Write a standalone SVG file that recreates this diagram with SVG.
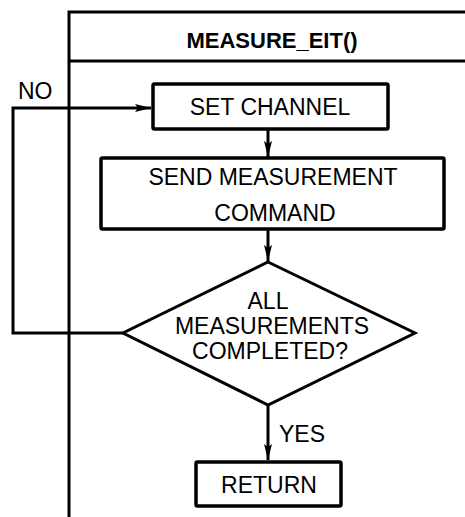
<svg xmlns="http://www.w3.org/2000/svg" width="465" height="517" viewBox="0 0 465 517">
  <style>
    .frame { fill: none; stroke: #000; stroke-width: 3; }
    .box { fill: #fff; stroke: #000; stroke-width: 3.5; }
    .wire { fill: none; stroke: #000; stroke-width: 3; }
    .lbl { font-family: "Liberation Sans", Arial, sans-serif; font-size: 23px; fill: #000; text-anchor: middle; }
    .title { font-weight: bold; font-size: 22px; }
    .side { text-anchor: start; }
  </style>
  <defs>
    <marker id="arrow" viewBox="0 0 16 10" refX="16" refY="5" markerWidth="16" markerHeight="10" markerUnits="userSpaceOnUse" orient="auto">
      <path d="M0,1 L16,5 L0,9 L3,5 Z" fill="#000"/>
    </marker>
  </defs>
  <rect width="465" height="517" fill="#fff"/>

  <!-- swimlane frame -->
  <g id="lane">
    <path class="frame" d="M69,517 V12 H465"/>
    <line class="frame" x1="69" y1="61" x2="465" y2="61"/>
    <text class="lbl title" x="272" y="48">MEASURE_EIT()</text>
  </g>

  <!-- connectors -->
  <g id="connectors">
    <path class="wire" d="M123,333 H13 V108 H151" marker-end="url(#arrow)"/>
    <line class="wire" x1="268" y1="130" x2="268" y2="157" marker-end="url(#arrow)"/>
    <line class="wire" x1="268" y1="230" x2="268" y2="261" marker-end="url(#arrow)"/>
    <line class="wire" x1="268" y1="405" x2="268" y2="460" marker-end="url(#arrow)"/>
    <text class="lbl side" x="18" y="99">NO</text>
    <text class="lbl side" x="279" y="442">YES</text>
  </g>

  <g id="set-channel">
    <rect class="box" x="153" y="84" width="235" height="45" rx="1.5"/>
    <text class="lbl" x="270" y="115">SET CHANNEL</text>
  </g>

  <g id="send-command">
    <rect class="box" x="101" y="158" width="343" height="71" rx="1.5"/>
    <text class="lbl" x="273" y="185">SEND MEASUREMENT</text>
    <text class="lbl" x="275" y="221">COMMAND</text>
  </g>

  <g id="all-done">
    <path class="frame" d="M268,262 L415,333 L268,405 L123,333 Z"/>
    <text class="lbl" x="268" y="309">ALL</text>
    <text class="lbl" x="272" y="334">MEASUREMENTS</text>
    <text class="lbl" x="270" y="359">COMPLETED?</text>
  </g>

  <g id="return">
    <rect class="box" x="196" y="462" width="145" height="44" rx="1.5"/>
    <text class="lbl" x="269" y="493">RETURN</text>
  </g>
</svg>
